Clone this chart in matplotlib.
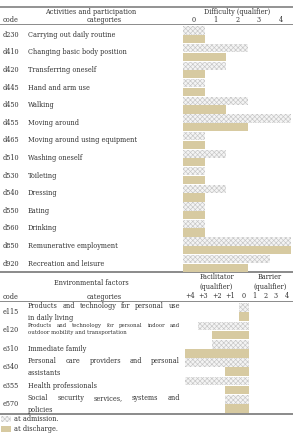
import numpy as np
import matplotlib.pyplot as plt
from matplotlib.transforms import blended_transform_factory

# activities and participation (difficulty qualifier)
act_codes = ['d230', 'd410', 'd420', 'd445', 'd450', 'd455', 'd465',
             'd510', 'd530', 'd540', 'd550', 'd560', 'd850', 'd920']
act_labels = ['Carrying out daily routine', 'Changing basic body position',
              'Transferring oneself', 'Hand and arm use', 'Walking',
              'Moving around', 'Moving around using equipment',
              'Washing oneself', 'Toileting', 'Dressing', 'Eating',
              'Drinking', 'Remunerative employment', 'Recreation and leisure']
act_admission = [0, 2, 1, 0, 2, 4, 0, 1, 0, 1, 0, 0, 4, 3]
act_discharge = [0, 1, 0, 0, 1, 2, 0, 0, 0, 0, 0, 0, 4, 2]
act_ticks = [0, 1, 2, 3, 4]

# environmental factors (negative = facilitator)
env_codes = ['e115', 'e120', 'e310', 'e340', 'e355', 'e570']
env_lines = [['Products and technology for personal use', 'in daily living'],
             ['Products and technology for personal indoor and',
              'outdoor mobility and transportation'],
             ['Immediate family'],
             ['Personal care providers and personal', 'assistants'],
             ['Health professionals'],
             ['Social security services, systems and', 'policies']]
env_admission = [0, -3, -2, -4, -4, -1]
env_discharge = [0, -2, -4, -1, -1, -1]
env_tick_labels = ['+4', '+3', '+2', '+1', '0', '1', '2', '3', '4']

W, H = 293, 437
tan = '#d7caa1'
plt.rcParams['font.family'] = 'DejaVu Serif'
plt.rcParams['hatch.linewidth'] = 0.45
fs = 4.7
txt_col = '#333333'

fig = plt.figure(figsize=(W / 100, H / 100), dpi=100)


def box(x0, y0, x1, y1):
    return [x0 / W, 1 - y1 / H, (x1 - x0) / W, (y1 - y0) / H]


# overlay axes in pixel units for rules and text
ax0 = fig.add_axes([0, 0, 1, 1])
ax0.set_xlim(0, W)
ax0.set_ylim(H, 0)
ax0.axis('off')

hatch_kw = dict(facecolor='#f4f4f4', edgecolor='#c6c6c6', linewidth=0, hatch='xxxxxxx')
tan_kw = dict(facecolor=tan, edgecolor='none', linewidth=0)

# --- activities panel ---
ax1 = fig.add_axes(box(172, 26, 293, 272.3))
y1 = np.arange(len(act_codes))
a = np.array(act_admission)
d = np.array(act_discharge)
b_adm = ax1.barh(y1 - 0.245, a + 1, left=-0.5, height=0.47, label='at admission.', **hatch_kw)
b_dis = ax1.barh(y1 + 0.245, d + 1, left=-0.5, height=0.47, label='at discharge.', **tan_kw)
ax1.set_xlim((172 - 194) / 21.6, (293 - 194) / 21.6)
ax1.set_ylim(len(act_codes) - 0.5, -0.5)
ax1.xaxis.tick_top()
ax1.set_xticks(act_ticks)
ax1.set_yticks([])
ax1.tick_params(axis='x', length=0, pad=1.6, labelsize=fs, labelcolor=txt_col)
for s in ax1.spines.values():
    s.set_visible(False)
ax1.patch.set_alpha(0)

tr1 = blended_transform_factory(ax0.transData, ax1.transData)
for i, (c, lab) in enumerate(zip(act_codes, act_labels)):
    ax0.text(3, i, c, transform=tr1, fontsize=fs, va='center', color=txt_col)
    ax0.text(28, i, lab, transform=tr1, fontsize=fs, va='center', color=txt_col)

# --- environmental panel ---
ax2 = fig.add_axes(box(172, 302.7, 293, 413.3))
y2 = np.arange(len(env_codes))
ea = np.array(env_admission)
ed = np.array(env_discharge)
ax2.barh(y2 - 0.245, 0.37 - (ea - 0.38), left=ea - 0.38, height=0.47, **hatch_kw)
ax2.barh(y2 + 0.245, 0.37 - (ed - 0.38), left=ed - 0.38, height=0.47, **tan_kw)
ax2.set_xlim((172 - 244) / 13.5, (293 - 244) / 13.5)
ax2.set_ylim(len(env_codes) - 0.5, -0.5)
ax2.xaxis.tick_top()
ax2.set_xticks([-4, -3, -2, -1, 0, 0.79, 1.58, 2.37, 3.16])
ax2.set_xticklabels(env_tick_labels)
ax2.set_yticks([])
ax2.tick_params(axis='x', length=0, pad=2.0, labelsize=fs, labelcolor=txt_col)
for s in ax2.spines.values():
    s.set_visible(False)
ax2.patch.set_alpha(0)

renderer = fig.canvas.get_renderer()


def justify(words, x0, x1, y, trans, size):
    texts = [ax0.text(0, y, w, transform=trans, fontsize=size, va='center', color=txt_col)
             for w in words]
    widths = [t.get_window_extent(renderer).width for t in texts]
    gap = (x1 - x0 - sum(widths)) / (len(words) - 1)
    x = x0
    for t, w in zip(texts, widths):
        t.set_x(x)
        x += w + gap


tr2 = blended_transform_factory(ax0.transData, ax2.transData)
for i, (c, lines) in enumerate(zip(env_codes, env_lines)):
    ax0.text(3, i, c, transform=tr2, fontsize=fs, va='center', color=txt_col)
    size = 3.9 if c == 'e120' else fs
    if len(lines) == 1:
        ax0.text(28, i, lines[0], transform=tr2, fontsize=size, va='center', color=txt_col)
    else:
        off1, off2 = (-0.27, 0.12) if c == 'e120' else (-0.32, 0.31)
        justify(lines[0].split(), 28, 180, i + off1, tr2, size)
        ax0.text(28, i + off2, lines[1], transform=tr2, fontsize=size, va='center', color=txt_col)

# headers
ax0.text(3, 20, 'code', fontsize=fs, va='center', color=txt_col)
ax0.text(91, 12, 'Activities and participation', fontsize=fs, va='center', ha='center', color=txt_col)
ax0.text(104, 20, 'categories', fontsize=fs, va='center', ha='center', color=txt_col)
ax0.text(237.5, 11.8, 'Difficulty (qualifier)', fontsize=fs, va='center', ha='center', color=txt_col)

ax0.text(91.5, 283, 'Environmental factors', fontsize=fs, va='center', ha='center', color=txt_col)
ax0.text(3, 296.7, 'code', fontsize=fs, va='center', color=txt_col)
ax0.text(104, 296.7, 'categories', fontsize=fs, va='center', ha='center', color=txt_col)
ax0.text(216.5, 277, 'Facilitator', fontsize=fs, va='center', ha='center', color=txt_col)
ax0.text(216.5, 287, '(qualifier)', fontsize=fs, va='center', ha='center', color=txt_col)
ax0.text(270, 277, 'Barrier', fontsize=fs, va='center', ha='center', color=txt_col)
ax0.text(270, 287, '(qualifier)', fontsize=fs, va='center', ha='center', color=txt_col)

# table rules
for yy, lw in [(6.7, 1.3), (24, 0.7), (272.3, 1.4), (301, 0.7), (414, 1.4)]:
    ax0.axhline(yy, color='#8a8a8a', lw=lw)

fig.legend(handles=[b_adm, b_dis], loc='upper left', bbox_to_anchor=(0.0, 1 - 414.5 / H),
           frameon=False, fontsize=fs, handlelength=1.6, handleheight=1.1,
           handletextpad=0.4, labelspacing=0.35, borderpad=0.1, borderaxespad=0,
           labelcolor=txt_col)

fig.savefig('out.png', dpi=100)
